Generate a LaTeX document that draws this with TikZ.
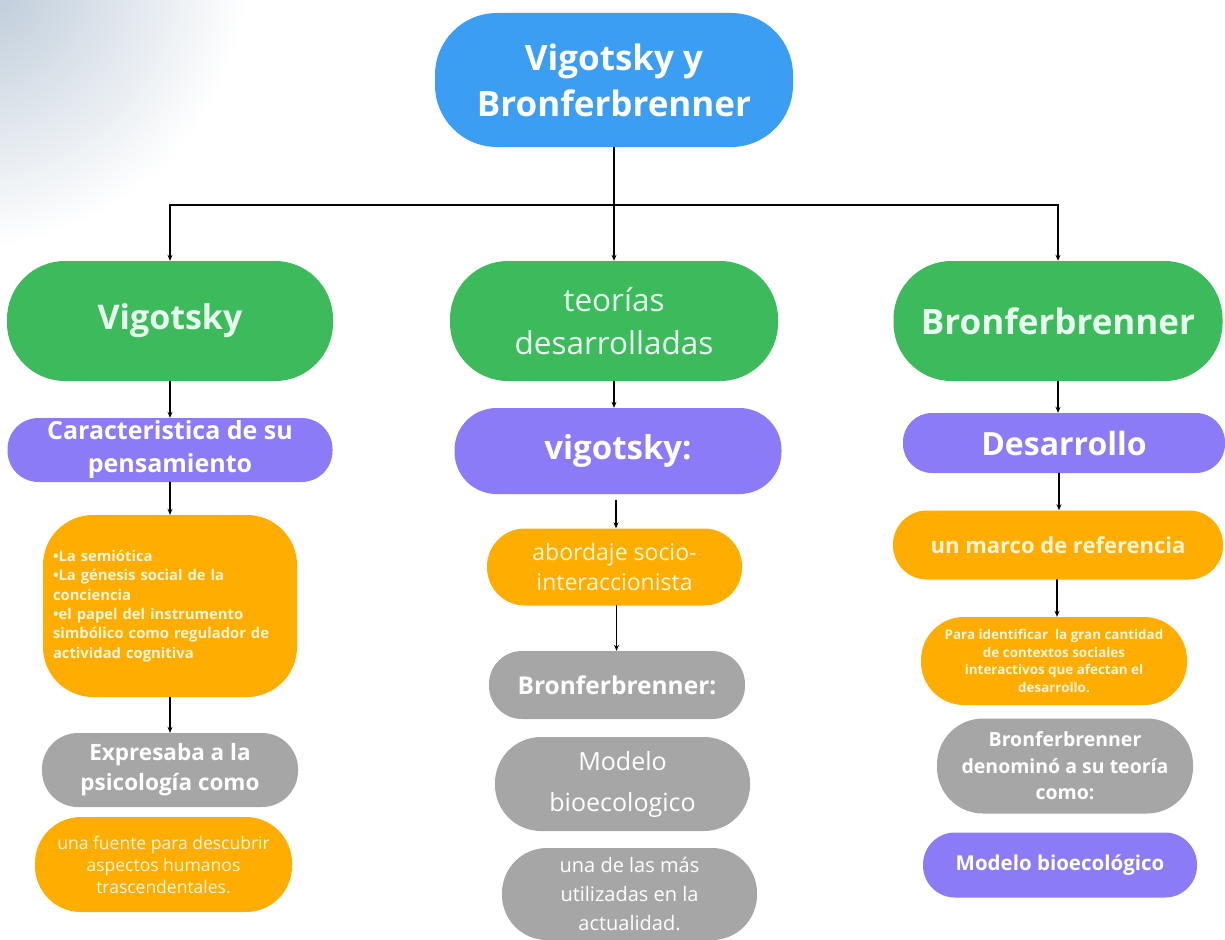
\documentclass[tikz,border=0pt]{standalone}
\usepackage{fontspec}
\setmainfont{Open Sans}
\usepackage{tikz}
\usetikzlibrary{arrows.meta}
\usepackage{xcolor}
\definecolor{cblue}{HTML}{3B9EF3}
\definecolor{cgreen}{HTML}{3DBA5C}
\definecolor{cpurple}{HTML}{8B7BF7}
\definecolor{corange}{HTML}{FFAD01}
\definecolor{cgray}{HTML}{A6A6A6}
\definecolor{cream}{HTML}{FFF6D8}
\definecolor{mint}{HTML}{E8FFF0}
\definecolor{haze}{HTML}{B3C3D3}
\newcommand\fsz[2]{\fontsize{#1}{#2}\selectfont}
\tikzset{
  box/.style n args={3}{rectangle,inner sep=0pt,align=center,text=white,
    minimum width=#1pt,minimum height=#2pt,rounded corners=#3pt},
  link/.style={->,line width=1.1pt,black}
}

\begin{document}
\begin{tikzpicture}[x=1pt,y=-1pt,>={Stealth[length=6pt,width=5pt]},line cap=round]
\useasboundingbox (0,0) rectangle (1225,939);
\fill[white] (0,0) rectangle (1225,939);
\begin{scope}
\clip (0,0) rectangle (1225,939);
\shade[inner color=haze,outer color=white] (-40,-40) circle (290pt);
\end{scope}

\node[box={358}{134}{62},fill=cblue,font=\fsz{35}{46}\bfseries] (top) at (614,80) {Vigotsky y\\Bronferbrenner};

\node[box={326}{120}{58},fill=cgreen,text=mint,font=\fsz{34}{40}\bfseries] (vig) at (170,321) {Vigotsky};
\node[box={328}{120}{58},fill=cgreen,text=mint,font=\fsz{31.5}{43}] (teo) at (614,321) {teorías\\desarrolladas};
\node[box={329}{120}{58},fill=cgreen,text=mint,font=\fsz{35}{40}\bfseries] (bro) at (1058,321) {Bronferbrenner};

\node[box={325}{64}{31},fill=cpurple,font=\fsz{25}{33}\bfseries] (car) at (170,450) {Caracteristica de su\\pensamiento};
\node[box={254}{182}{50},fill=corange,text=cream,align=left,text width=234pt,font=\fsz{14.8}{19.3}\bfseries] (sem) at (170,606)
  {•La semiótica\\•La génesis social de la\\conciencia\\•el papel del instrumento\\simbólico como regulador de\\actividad cognitiva};
\node[box={256}{74}{36},fill=cgray,font=\fsz{22.5}{30}\bfseries] (exp) at (170,770) {Expresaba a la\\psicología como};
\node[box={257}{95}{46},fill=corange,text=cream,font=\fsz{17.5}{22}] (fue) at (163.5,864.5) {una fuente para descubrir\\aspectos humanos\\trascendentales.};

\node[box={327}{86}{42},fill=cpurple,font=\fsz{33}{35}\bfseries] (vgm) at (618,451) {vigotsky:};
\node[box={255}{77}{38},fill=corange,text=cream,font=\fsz{23}{30}] (abo) at (614.5,567) {abordaje socio-\\interaccionista};
\node[box={256}{68}{33},fill=cgray,font=\fsz{24.5}{30}\bfseries] (bfm) at (617,685) {Bronferbrenner:};
\node[box={255}{94}{46},fill=cgray,font=\fsz{25}{41}] (mbm) at (622.5,784) {Modelo\\bioecologico};
\node[box={255}{92}{45},fill=cgray,font=\fsz{20}{29}] (una) at (629.5,894) {una de las más\\utilizadas en la\\actualidad.};

\node[box={322}{60}{29},fill=cpurple,font=\fsz{32}{35}\bfseries] (des) at (1064,443) {Desarrollo};
\node[box={330}{69}{34},fill=corange,text=cream,font=\fsz{22}{28}\bfseries] (mar) at (1058,545) {un marco de referencia};
\node[box={266}{88}{43},fill=corange,text=cream,font=\fsz{13.4}{17.7}\bfseries] (par) at (1054,661)
  {Para identificar\ \ la gran cantidad\\de contextos sociales\\interactivos que afectan el\\desarrollo.};
\node[box={256}{95}{46},fill=cgray,font=\fsz{19.5}{26.5}\bfseries] (den) at (1065,766) {Bronferbrenner\\denominó a su teoría\\como:};
\node[box={274}{65}{32},fill=cpurple,font=\fsz{20.5}{24}\bfseries] (mbr) at (1060,865) {Modelo bioecológico};

\coordinate (split) at (614,205);
\draw[line width=1.1pt] (top.south) -- (split);
\draw[link] (split) -- (teo.north);
\draw[link] (split) -| (vig.north);
\draw[link] (split) -| (bro.north);

\draw[link] (vig.south) -- (car.north);
\draw[link] (car.south) -- (sem.north);
\draw[link] (sem.south) -- (exp.north);

\draw[link] (teo.south) -- (teo.south |- vgm.north);
\draw[link] ([xshift=-2pt]vgm.south) ++(0,6) -- ([xshift=-2pt]vgm.south |- abo.north);
\draw[link] ([xshift=2pt]abo.south) -- ([xshift=2pt]abo.south |- bfm.north);

\draw[link] (bro.south) -- (bro.south |- des.north);
\draw[link] ([xshift=-5pt]des.south) -- ([xshift=-5pt]des.south |- mar.north);
\draw[link] ([xshift=-1pt]mar.south) -- ([xshift=-1pt]mar.south |- par.north);
\end{tikzpicture}
\end{document}
